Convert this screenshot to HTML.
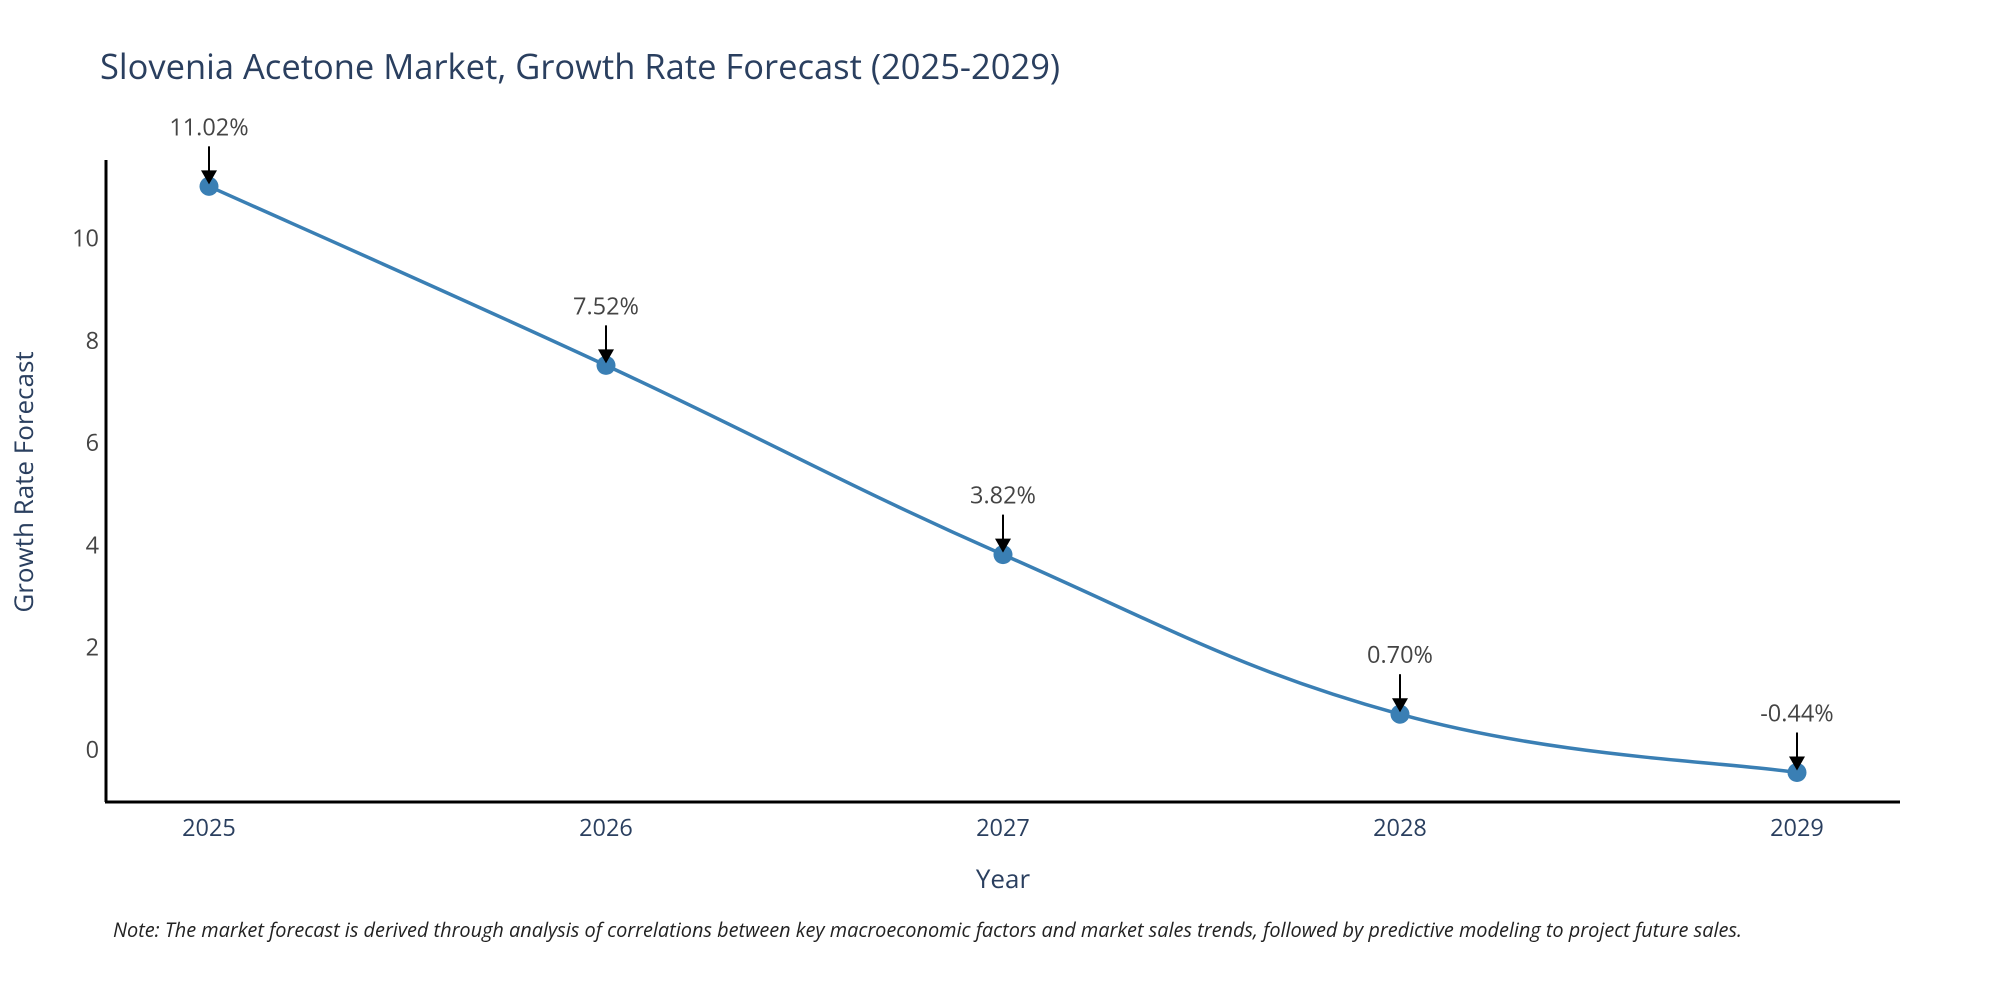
<!DOCTYPE html>
<html><head><meta charset="utf-8"><style>
body{margin:0;background:#fff;}
svg text{font-family:"Open Sans","Liberation Sans",sans-serif;}
</style></head><body>
<svg width="2000" height="1000" viewBox="0 0 2000 1000" xmlns="http://www.w3.org/2000/svg">
<text x="100" y="79" font-size="34.5" fill="#2a3f5f">Slovenia Acetone Market, Growth Rate Forecast (2025-2029)</text>
<g id="yticks"></g><g id="xticks"></g>
<line x1="106" y1="160" x2="106" y2="802" stroke="#000" stroke-width="3"/>
<line x1="105" y1="802" x2="1900" y2="802" stroke="#000" stroke-width="3"/>
<path id="line" fill="none" stroke="#3a7fb4" stroke-width="3.5"/>
<g id="marks"></g>
<text x="1003" y="888" font-size="26" fill="#2a3f5f" text-anchor="middle">Year</text>
<text transform="translate(33,482) rotate(-90)" font-size="26" fill="#2a3f5f" text-anchor="middle">Growth Rate Forecast</text>
<text x="113" y="937" font-size="19.9" font-style="italic" fill="#222">Note: The market forecast is derived through analysis of correlations between key macroeconomic factors and market sales trends, followed by predictive modeling to project future sales.</text>
</svg>
<script>
const years=["2025","2026","2027","2028","2029"];
const values=[11.02,7.52,3.82,0.70,-0.44];
const labels=["11.02%","7.52%","3.82%","0.70%","-0.44%"];
const yTicks=[0,2,4,6,8,10];
const NS="http://www.w3.org/2000/svg";
function xs(i){return 209+i*397;}
function ys(v){return 750-v*51.15;}
const yt=document.getElementById('yticks');
yTicks.forEach(t=>{const e=document.createElementNS(NS,'text');


e.setAttribute('x',99);e.setAttribute('y',ys(t)+8);e.setAttribute('text-anchor','end');e.setAttribute('font-size','23.5');e.setAttribute('fill','#444');e.textContent=t;yt.appendChild(e);});
const xt=document.getElementById('xticks');
years.forEach((y,i)=>{const e=document.createElementNS(NS,'text');


e.setAttribute('x',xs(i));e.setAttribute('y',836);e.setAttribute('text-anchor','middle');e.setAttribute('font-size','23.5');e.setAttribute('fill','#2a3f5f');e.textContent=y;xt.appendChild(e);});
const P=values.map((v,i)=>[xs(i),ys(v)]);
let d='M'+P[0][0]+','+P[0][1];const s=0.2;
for(let i=0;i<P.length-1;i++){const p0=P[Math.max(i-1,0)],p1=P[i],p2=P[i+1],p3=P[Math.min(i+2,P.length-1)];
d+=' C'+(p1[0]+(p2[0]-p0[0])*s)+','+(p1[1]+(p2[1]-p0[1])*s)+' '+(p2[0]-(p3[0]-p1[0])*s)+','+(p2[1]-(p3[1]-p1[1])*s)+' '+p2[0]+','+p2[1];}
document.getElementById('line').setAttribute('d',d);
const g=document.getElementById('marks');
P.forEach((p,i)=>{
const c=document.createElementNS(NS,'circle');


c.setAttribute('cx',p[0]);c.setAttribute('cy',p[1]);c.setAttribute('r',9.5);c.setAttribute('fill','#3a7fb4');g.appendChild(c);
const l=document.createElementNS(NS,'line');


l.setAttribute('x1',p[0]);l.setAttribute('y1',p[1]-40);l.setAttribute('x2',p[0]);l.setAttribute('y2',p[1]-14);l.setAttribute('stroke','#000');l.setAttribute('stroke-width','2');g.appendChild(l);
const a=document.createElementNS(NS,'path');


a.setAttribute('d','M'+(p[0]-8)+','+(p[1]-16)+' L'+(p[0]+8)+','+(p[1]-16)+' L'+p[0]+','+(p[1]-2)+'Z');a.setAttribute('fill','#000');g.appendChild(a);
const t=document.createElementNS(NS,'text');


t.setAttribute('x',p[0]);t.setAttribute('y',p[1]-51);t.setAttribute('text-anchor','middle');t.setAttribute('font-size','23.5');t.setAttribute('fill','#444');t.textContent=labels[i];g.appendChild(t);
});
</script>
</body></html>
